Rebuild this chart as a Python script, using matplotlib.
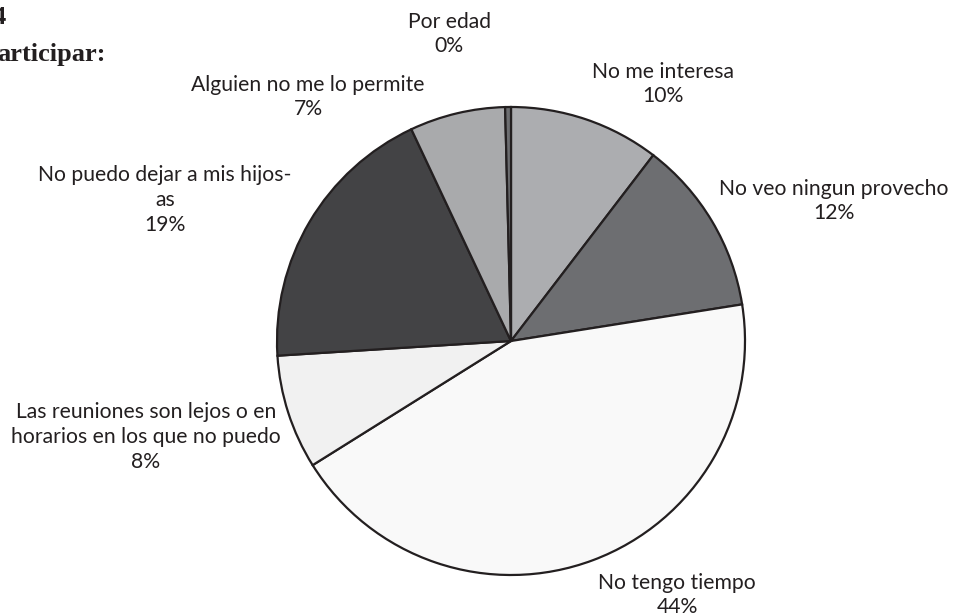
import matplotlib.pyplot as plt

labels = [
    "No me interesa",
    "No veo ningun provecho",
    "No tengo tiempo",
    "Las reuniones son lejos o en\nhorarios en los que no puedo",
    "No puedo dejar a mis hijos-\nas",
    "Alguien no me lo permite",
    "Por edad",
]
values = [10.4, 12.1, 43.6, 7.9, 19.0, 6.6, 0.4]
colors = ["#acadb0", "#6d6e71", "#f9f9f9", "#f1f1f1", "#434345", "#a9aaac", "#6d6e71"]

# label block centres in figure pixels
label_pos = [(663, 84), (834, 201), (677, 595), (146, 437), (165, 200), (308, 97), (449, 34)]

W, H = 959, 614
fig = plt.figure(figsize=(W / 100, H / 100), dpi=100)

cx, cy, r = 511, 341, 234
ax = fig.add_axes([(cx - r) / W, (H - cy - r) / H, 2 * r / W, 2 * r / H])
ax.pie(values, colors=colors, startangle=90, counterclock=False,
       wedgeprops=dict(edgecolor="#231f20", linewidth=1.6))
ax.set_xlim(-1, 1)
ax.set_ylim(-1, 1)
ax.set_aspect("equal")
ax.axis("off")

total = sum(values)
for lab, v, (px, py) in zip(labels, values, label_pos):
    txt = f"{lab}\n{round(v / total * 100)}%"
    fig.text(px / W, 1 - py / H, txt, ha="center", va="center", ma="center",
             fontsize=15.2, family="Lato", color="#231f20", linespacing=1.3)

fig.text(6 / W, 1 - 18 / H, "4", ha="right", va="center", fontsize=19,
         family="Liberation Serif", fontweight="bold", color="#231f20")
fig.text(-3 / W, 1 - 54 / H, "articipar:", ha="left", va="center", fontsize=19,
         family="Liberation Serif", fontweight="bold", color="#231f20")

fig.savefig("out.png", dpi=100, facecolor="white")
